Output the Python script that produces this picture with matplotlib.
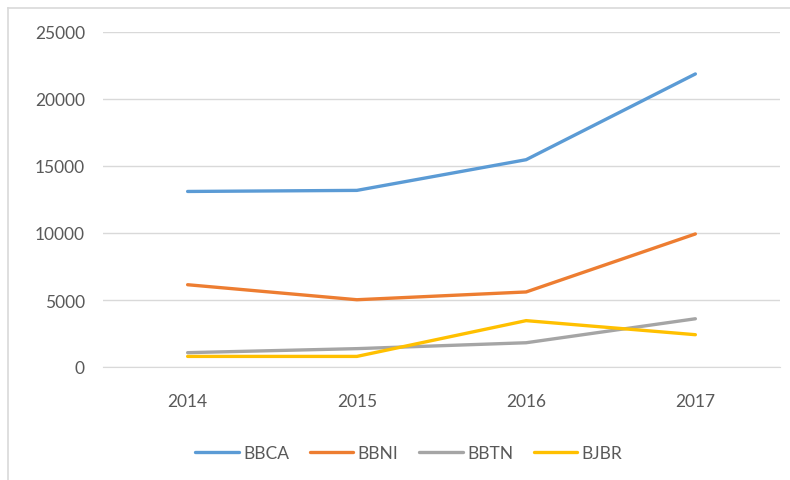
import matplotlib.pyplot as plt
from matplotlib.lines import Line2D

years = ["2014", "2015", "2016", "2017"]
bbca = [13100, 13180, 15470, 21870]
bbni = [6140, 5020, 5600, 9930]
bbtn = [1070, 1370, 1810, 3600]
bjbr = [790, 790, 3460, 2410]

series = [("BBCA", bbca, "#5B9BD5"), ("BBNI", bbni, "#ED7D31"),
          ("BBTN", bbtn, "#A5A5A5"), ("BJBR", bjbr, "#FFC000")]

plt.rcParams['font.family'] = ['Lato', 'DejaVu Sans']

fig = plt.figure(figsize=(7.9, 4.81), dpi=100)
ax = fig.add_axes([103/790, 1 - 368/481, 677/790, 335/481])

x = range(len(years))
for name, vals, col in series:
    ax.plot(x, vals, color=col, lw=2.4, label=name, solid_capstyle='round')

ax.set_xlim(-0.5, 3.5)
ax.set_ylim(0, 25000)
ax.set_yticks(range(0, 25001, 5000))
ax.set_xticks(list(x))
ax.set_xticklabels(years)
ax.grid(axis='y', color='#D9D9D9', lw=1)
ax.set_axisbelow(True)
for s in ax.spines.values():
    s.set_visible(False)
ax.spines['bottom'].set_visible(True)
ax.spines['bottom'].set_color('#D9D9D9')
ax.tick_params(axis='both', length=0, labelsize=12.5, colors='#595959')
ax.tick_params(axis='y', pad=13)
ax.tick_params(axis='x', pad=19)

fig.legend(loc='center', bbox_to_anchor=(409/790, 1 - 454/481), ncol=4, frameon=False,
           fontsize=12.5, labelcolor='#595959', handlelength=2.5, columnspacing=1.2,
           handletextpad=0.25)

# outer chart border
fig.add_artist(Line2D([8/790, 8/790], [0, 1 - 9/481], color='#D9D9D9', lw=1.2))
fig.add_artist(Line2D([8/790, 1], [1 - 9/481, 1 - 9/481], color='#D9D9D9', lw=1.2))

fig.savefig("out.png", dpi=100)
